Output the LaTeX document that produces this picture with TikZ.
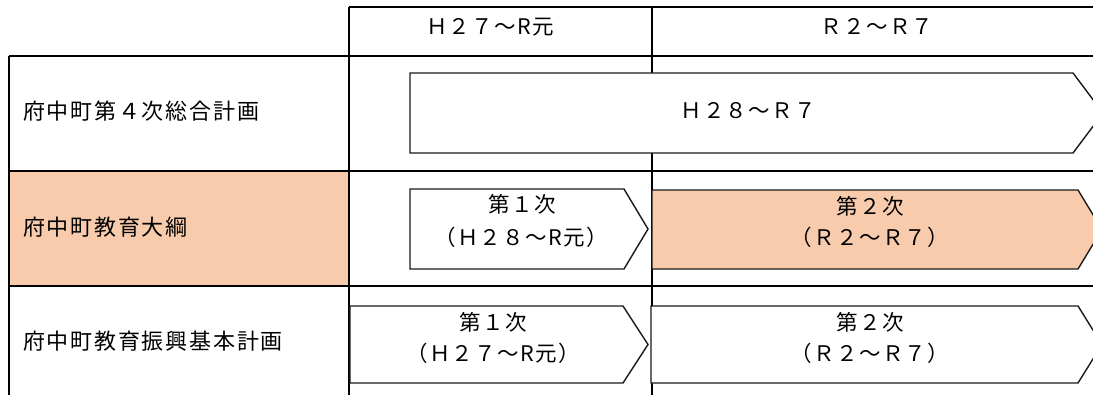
\documentclass[tikz,border=0pt]{standalone}
\usepackage{fontspec}
\setmainfont{Noto Sans CJK JP}
\newfontfamily\jplab[LetterSpace=8]{Noto Sans CJK JP}
\newfontfamily\jptxt[LetterSpace=6]{Noto Sans CJK JP}
\definecolor{orng}{HTML}{F8CBAD}
\definecolor{arline}{HTML}{1A1A1A}
\begin{document}
\begin{tikzpicture}[x=1pt,y=-1pt,
  grid/.style={line width=1.8pt,black},
  arrowbox/.style={line width=1.4pt,draw=arline,line join=miter},
  lbl/.style={font=\jplab\fontsize{22pt}{26pt}\selectfont,inner sep=0pt,text height=0.88em,text depth=0.12em,anchor=west},
  txt/.style={font=\jptxt\fontsize{21.5pt}{26pt}\selectfont,inner sep=0pt,text height=0.88em,text depth=0.12em}]
\useasboundingbox (0,0) rectangle (1093,394);
\clip (0,0) rectangle (1093,394);
% orange cell
\fill[orng] (9,171) rectangle (349,286);
% grid
\draw[grid] (349,7) -- (1100,7);
\draw[grid] (9,56) -- (1100,56);
\draw[grid] (9,171) -- (1100,171);
\draw[grid] (9,286) -- (1100,286);
\draw[grid] (9,56) -- (9,400);
\draw[grid] (349,7) -- (349,400);
\draw[grid] (652,7) -- (652,400);
% arrows
\filldraw[arrowbox,fill=white] (410,73) -- (1073,73) -- (1103,113) -- (1073,153) -- (410,153) -- cycle;
\filldraw[arrowbox,fill=white] (410,189) -- (624,189) -- (648,229) -- (624,269) -- (410,269) -- cycle;
\filldraw[arrowbox,fill=orng] (652,190) -- (1078,190) -- (1102,229.5) -- (1078,269) -- (652,269) -- cycle;
\filldraw[arrowbox,fill=white] (350,306) -- (623,306) -- (648,344.5) -- (623,383) -- (350,383) -- cycle;
\filldraw[arrowbox,fill=white] (651,306) -- (1078,306) -- (1102,344.5) -- (1078,383) -- (651,383) -- cycle;
% labels
\node[lbl] (l1) at (23,116) {府中町第４次総合計画};
\node[lbl] (l2) at (23,232) {府中町教育大綱};
\node[lbl] (l3) at (23,346) {府中町教育振興基本計画};
% header
\node[txt] (h1) at (490,31) {Ｈ２７～R元};
\node[txt] (h2) at (877,31) {Ｒ２～Ｒ７};
% arrow texts
\node[txt] (a1) at (748,115) {Ｈ２８～Ｒ７};
\node[txt] (a2a) at (522,209) {第１次};
\node[txt] (a2b) at (521,242) {（Ｈ２８～R元）};
\node[txt] (b2a) at (870,211) {第２次};
\node[txt] (b2b) at (870,242) {（Ｒ２～Ｒ７）};
\node[txt] (a3a) at (493,327) {第１次};
\node[txt] (a3b) at (493,358) {（Ｈ２７～R元）};
\node[txt] (b3a) at (870,327) {第２次};
\node[txt] (b3b) at (870,358) {（Ｒ２～Ｒ７）};
\end{tikzpicture}
\end{document}
